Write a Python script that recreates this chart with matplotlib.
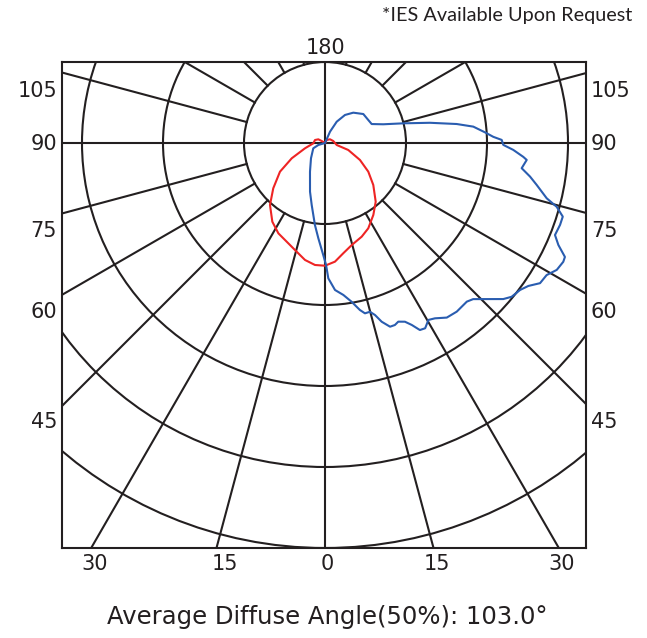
import numpy as np
import matplotlib.pyplot as plt
from matplotlib.patches import Circle

# polar candela curves: angle from nadir (deg, + to the right), radius in ring units
red_angle = [-180, -121.2, -118.9, -106.7, -88.5, -75.2, -65.3, -57.5, -48.8, -41.6,
             -33.8, -27.3, -21.2, -14.6, -9.7, -4.7, 0.0, 4.8, 9.4, 14.7, 21.4,
             26.9, 33.9, 40.8, 49.0, 56.5, 64.1, 73.3, 80.3, 103.5, 126.5, 150.5, 180]
red_value = [0.0, 0.048, 0.094, 0.129, 0.144, 0.255, 0.452, 0.659, 0.849, 1.023,
             1.169, 1.255, 1.307, 1.387, 1.465, 1.511, 1.515, 1.470, 1.380, 1.302, 1.242,
             1.181, 1.070, 0.958, 0.790, 0.641, 0.480, 0.300, 0.147, 0.105, 0.077, 0.043, 0.0]

blue_angle = [-90, -73.4, -65.6, -42.5, -27.6, -17.1, -12.1, -7.0, -4.0, -0.9,
              0.5, 1.4, 3.9, 6.9, 9.5, 11.8, 13.2, 14.9, 16.2, 17.6, 19.5, 21.0,
              22.3, 24.1, 25.5, 26.9, 28.4, 30.3, 32.1, 34.9, 38.0, 41.8, 43.5, 46.0,
              48.8, 50.5, 53.0, 54.9, 56.9, 59.2, 61.3, 63.5, 64.6, 66.4, 68.2, 70.8,
              72.8, 74.6, 76.0, 78.8, 80.7, 82.7, 85.2, 86.0, 87.9, 89.4, 91.0, 92.1,
              93.8, 96.3, 98.2, 100.9, 104.1, 107.8, 112.1, 118.0, 127.1, 137.0, 144.5,
              151.2, 156.1, 165]
blue_value = [0.0, 0.086, 0.159, 0.256, 0.400, 0.629, 0.783, 1.020, 1.179, 1.383,
              1.506, 1.671, 1.819, 1.890, 1.987, 2.106, 2.160, 2.156, 2.211, 2.315, 2.406, 2.407,
              2.384, 2.417, 2.489, 2.589, 2.600, 2.530, 2.555, 2.628, 2.642, 2.627, 2.657, 2.774,
              2.925, 2.985, 3.015, 3.069, 3.169, 3.185, 3.262, 3.287, 3.279, 3.144, 3.058, 3.073,
              3.073, 2.967, 2.821, 2.664, 2.565, 2.448, 2.499, 2.454, 2.326, 2.201, 2.182, 2.079,
              1.980, 1.842, 1.643, 1.320, 0.997, 0.756, 0.622, 0.605, 0.593, 0.512, 0.425,
              0.300, 0.153, 0.0]

rings = [1, 2, 3, 4, 5]
spokes = [15, 30, 45, 60, 75, 105, 120, 135, 150, 165]
side_labels = ["105", "90", "75", "60", "45"]
bottom_labels = ["30", "15", "0", "15", "30"]

grid_col = "#231f20"
W, H = 647, 638
cx, cy, unit = 325, 143, 81
lw = 1.5


def to_xy(angle, value):
    a = np.radians(angle)
    v = np.asarray(value)
    return v * np.sin(a), -v * np.cos(a)


fig = plt.figure(figsize=(W / 100, H / 100), dpi=100)
left, right, top, bottom = 62, 586, 62, 548
ax = fig.add_axes([left / W, 1 - bottom / H, (right - left) / W, (bottom - top) / H])
ax.set_xlim((left - cx) / unit, (right - cx) / unit)
ax.set_ylim((cy - bottom) / unit, (cy - top) / unit)
ax.set_aspect("equal")
ax.set_xticks([])
ax.set_yticks([])
for s in ax.spines.values():
    s.set_color(grid_col)
    s.set_linewidth(lw)

for r in rings:
    ax.add_patch(Circle((0, 0), r, fill=False, ec=grid_col, lw=lw))
ax.axhline(0, color=grid_col, lw=lw)
ax.axvline(0, color=grid_col, lw=lw)
for sp in spokes:
    for sgn in (-1, 1):
        x, y = to_xy(sgn * sp, [1, 10])
        ax.plot(x, y, color=grid_col, lw=lw)

x, y = to_xy(red_angle, red_value)
ax.plot(x, y, color="#ee2424", lw=lw)
x, y = to_xy(blue_angle, blue_value)
ax.plot(x, y, color="#2a5db0", lw=lw)


def px(xp, yp):
    return (xp - cx) / unit, (cy - yp) / unit


tick_font = dict(fontsize=15, color=grid_col, clip_on=False)
side_y = [91, 144, 231, 312, 422]
for lab, yp in zip(side_labels, side_y):
    ax.text(*px(57, yp), lab, ha="right", va="center", **tick_font)
    ax.text(*px(591, yp), lab, ha="left", va="center", **tick_font)
bottom_x = [95, 225, 327, 437, 562]
for lab, xp in zip(bottom_labels, bottom_x):
    ax.text(*px(xp, 564), lab, ha="center", va="center", **tick_font)
ax.text(*px(325, 48), "180", ha="center", va="center", **tick_font)

fig.text(327.5 / W, 1 - 617 / H, "Average Diffuse Angle(50%): 103.0°",
         ha="center", va="center", fontsize=17.5, color=grid_col)
fig.text(632 / W, 1 - 15 / H, "*IES Available Upon Request",
         ha="right", va="center", fontsize=14.3, family="Lato", color=grid_col)

fig.savefig("out.png", dpi=100)
